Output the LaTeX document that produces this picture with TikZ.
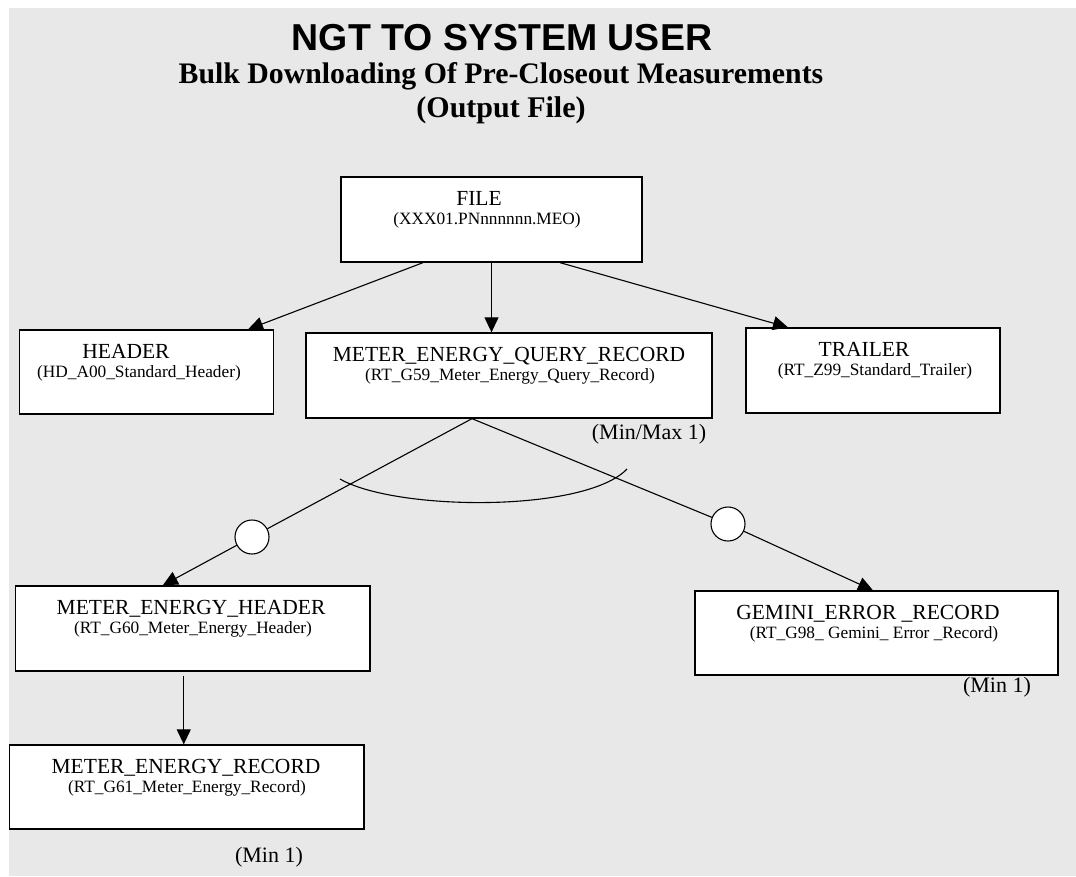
\documentclass[tikz,border=0pt]{standalone}
\usepackage{fontspec}
\setmainfont{Liberation Serif}
\newfontfamily\headfont{Liberation Sans}
\usepackage{tikz}
\usetikzlibrary{arrows.meta, positioning}
\definecolor{pagegray}{RGB}{232,232,232}
\tikzstyle{recbox}  = [rectangle, draw=black, fill=white, line width=1.3pt, inner sep=0pt]
\tikzstyle{recname} = [anchor=base, inner sep=0pt, font=\fontsize{21.5}{24}\selectfont]
\tikzstyle{recid}   = [anchor=base, inner sep=0pt, font=\fontsize{17.3}{20}\selectfont]
\tikzstyle{count}   = [anchor=base, inner sep=0pt, font=\fontsize{22}{24}\selectfont]
\tikzstyle{optcirc} = [circle, draw=black, fill=white, minimum size=34pt, inner sep=0pt, line width=1.1pt]
\tikzstyle{link}    = [line width=1.1pt]
\tikzstyle{arrow}   = [line width=1.1pt, -{Triangle[length=15pt,width=14pt]}]

\begin{document}
\begin{tikzpicture}[x=1pt, y=-1pt]
    \useasboundingbox (0,0) rectangle (1076,876);
    \fill[pagegray] (9,8) rectangle (1076,876);

    % title block
    \node (title) [anchor=base, inner sep=0pt, font=\headfont\bfseries\fontsize{37.5}{40}\selectfont] at (502,50) {NGT TO SYSTEM USER};
    \node (sub1)  [anchor=base, inner sep=0pt, font=\bfseries\fontsize{29.8}{32}\selectfont] at (501,83) {Bulk Downloading Of Pre-Closeout Measurements};
    \node (sub2)  [anchor=base, inner sep=0pt, font=\bfseries\fontsize{30}{32}\selectfont] at (501,117) {(Output File)};

    % record boxes
    \node (file)    [recbox, minimum width=301, minimum height=85]   at (491.5,219.5) {};
    \node (header)  [recbox, minimum width=254, minimum height=84]   at (146.5,372) {};
    \node (meqr)    [recbox, minimum width=406, minimum height=85]   at (509,375.5) {};
    \node (trailer) [recbox, minimum width=254, minimum height=85]   at (873,370.5) {};
    \node (meh)     [recbox, minimum width=354.5, minimum height=85] at (192.75,628.5) {};
    \node (mer)     [recbox, minimum width=354.7, minimum height=84] at (186.65,787) {};
    \node (ger)     [recbox, minimum width=363, minimum height=84]   at (876.5,633) {};

    % box texts
    \node (fileN)    [recname] at (479,205)   {FILE};
    \node (fileI)    [recid]   at (487,224)   {(XXX01.PNnnnnnn.MEO)};
    \node (headerN)  [recname] at (126,358)   {HEADER};
    \node (headerI)  [recid]   at (139,377)   {(HD\_A00\_Standard\_Header)};
    \node (meqrN)    [recname] at (509,361)   {METER\_ENERGY\_QUERY\_RECORD};
    \node (meqrI)    [recid]   at (510,380)   {(RT\_G59\_Meter\_Energy\_Query\_Record)};
    \node (trailerN) [recname] at (864,356)   {TRAILER};
    \node (trailerI) [recid]   at (875,375)   {(RT\_Z99\_Standard\_Trailer)};
    \node (mehN)     [recname] at (191,614)   {METER\_ENERGY\_HEADER};
    \node (mehI)     [recid]   at (193,633)   {(RT\_G60\_Meter\_Energy\_Header)};
    \node (merN)     [recname] at (186,773)   {METER\_ENERGY\_RECORD};
    \node (merI)     [recid]   at (187,792)   {(RT\_G61\_Meter\_Energy\_Record)};
    \node (gerN)     [recname] at (868,619)   {GEMINI\_ERROR \_RECORD};
    \node (gerI)     [recid]   at (874,638)   {(RT\_G98\_ Gemini\_ Error \_Record)};

    % occurrence notes
    \node (meqrC) [count] at (649,439) {(Min/Max 1)};
    \node (gerC)  [count] at (997,692) {(Min 1)};
    \node (merC)  [count] at (269,862) {(Min 1)};

    % file level
    \draw [arrow] ([xshift=-68.5pt]file.south) -- ([xshift=101.5pt]header.north);
    \draw [arrow] (file.south) -- (file.south |- meqr.north);
    \draw [arrow] ([xshift=68.5pt]file.south) -- ([xshift=-85pt]trailer.north);

    % choice between header group and error record
    \coordinate (fork) at ([xshift=-37pt]meqr.south);
    \node (optL) [optcirc] at (252,537) {};
    \node (optR) [optcirc] at (728,524) {};
    \draw [link] (fork) -- (optL);
    \draw [link] (fork) -- (optR);
    \draw [arrow] (optL) -- ([xshift=-30pt]meh.north);
    \draw [arrow] (optR) -- ([xshift=-3.5pt]ger.north);
    \draw [link] (340,479) .. controls (395,511) and (585,513) .. (627,469);

    \coordinate (mehOut) at ([xshift=-9pt,yshift=-4pt]meh.south);
    \draw [arrow] (mehOut) -- (mehOut |- mer.north);
\end{tikzpicture}
\end{document}
